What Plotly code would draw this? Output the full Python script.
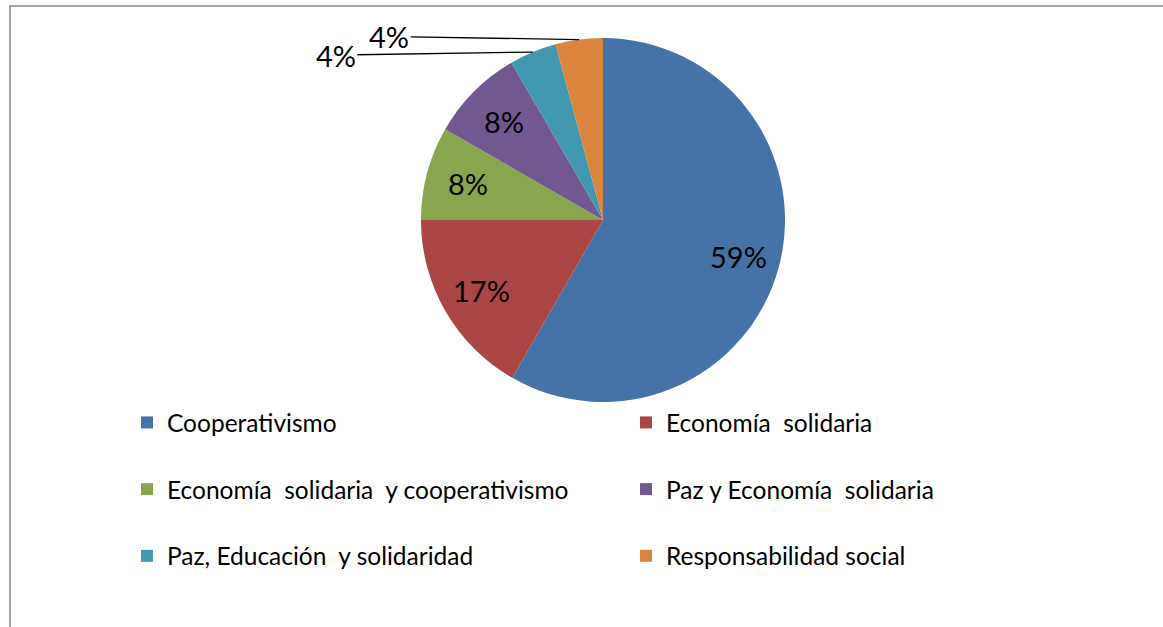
import math
import plotly.graph_objects as go

# slices, clockwise from 12 o'clock
categories = [
    "Cooperativismo",
    "Economía  solidaria",
    "Economía  solidaria  y cooperativismo",
    "Paz y Economía  solidaria",
    "Paz, Educación  y solidaridad",
    "Responsabilidad social",
]
shares = [58.3, 16.7, 8.3, 8.3, 4.2, 4.2]
pct_labels = ["59%", "17%", "8%", "8%", "4%", "4%"]
colors = ["#4572A7", "#AA4643", "#89A54E", "#71588F", "#4198AF", "#DB843D"]

W, H = 1163, 627
FONT = "Lato"
LABEL_SIZE = 29
cx_px, cy_px, R = 603, 220, 182
dom_x = [(cx_px - R) / W, (cx_px + R) / W]
dom_y = [1 - (cy_px + R) / H, 1 - (cy_px - R) / H]

# pad the legend labels with a blank line so rows get the wider spacing
legend_labels = ["%s<br> " % c for c in categories]

fig = go.Figure(go.Pie(
    labels=legend_labels,
    values=shares,
    textinfo="none",
    marker=dict(colors=colors, line=dict(width=0)),
    sort=False,
    direction="clockwise",
    rotation=0,
    domain=dict(x=dom_x, y=dom_y),
    hoverinfo="skip",
))

# data labels at ~0.78 R on each slice's mid angle;
# the two small slices get theirs outside with leader lines
label_offsets = {4: (-197, 3), 5: (-190, -3)}
total = sum(shares)
cum = 0
cxp = (dom_x[0] + dom_x[1]) / 2
cyp = (dom_y[0] + dom_y[1]) / 2
for i, s in enumerate(shares):
    mid = (cum + s / 2) / total * 2 * math.pi
    cum += s
    if i in label_offsets:
        ax, ay = label_offsets[i]
        fig.add_annotation(
            x=cxp + R / W * math.sin(mid), y=cyp + R / H * math.cos(mid),
            xref="paper", yref="paper",
            text=pct_labels[i], showarrow=True, arrowhead=0, arrowwidth=1.3,
            arrowcolor="black", ax=ax, ay=ay,
            font=dict(family=FONT, size=LABEL_SIZE, color="black"),
        )
    else:
        r = 0.77 * R
        fig.add_annotation(
            x=cxp + r / W * math.sin(mid), y=cyp + r / H * math.cos(mid),
            xref="paper", yref="paper",
            text=pct_labels[i], showarrow=False,
            xanchor="center", yanchor="middle",
            font=dict(family=FONT, size=LABEL_SIZE, color="black"),
        )

# chart area border (only top and left edges fall inside the picture)
fig.add_shape(type="rect", xref="paper", yref="paper",
              x0=10 / W, x1=1.02, y0=-0.02, y1=1 - 6 / H,
              line=dict(color="#888888", width=1.5))

fig.update_layout(
    width=W, height=H,
    margin=dict(l=0, r=0, t=0, b=0),
    paper_bgcolor="white",
    plot_bgcolor="white",
    font=dict(family=FONT, color="black"),
    showlegend=True,
    legend=dict(
        orientation="h",
        x=127 / W, xanchor="left",
        y=1 - 400 / H, yanchor="top",
        bgcolor="rgba(0,0,0,0)",
        font=dict(family=FONT, size=24.5, color="black"),
        valign="top",
        entrywidth=454, entrywidthmode="pixels",
        traceorder="normal",
    ),
)

fig.write_html("out.html", config={"displayModeBar": False},
               post_script="document.body.style.margin='0';")
